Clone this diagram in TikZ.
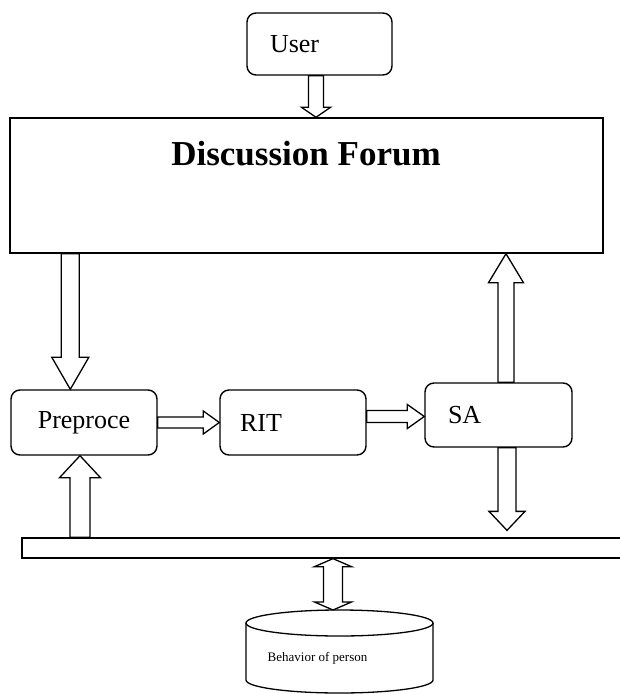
\documentclass[tikz,border=0pt]{standalone}
\usepackage{fontspec}
\setmainfont{Liberation Serif}
\usetikzlibrary{calc}
\tikzset{
  rbox/.style={draw, line width=1.4pt, rounded corners=9pt, fill=white, minimum height=64pt, inner ysep=0pt, font=\fontsize{26}{30}\selectfont},
  sqbox/.style={draw, line width=1.4pt, inner sep=0pt},
  blk/.style={draw, line width=1.3pt, fill=white, line join=miter, miter limit=10},
}
\newcommand\blockarrow[5]{% from, to, half shaft, half head, head length
  \path ($(#2)!#5!(#1)$) coordinate (bahd);
  \draw[blk] ($(#1)!#3!90:(#2)$) -- ($(bahd)!#3!-90:(#1)$) -- ($(bahd)!#4!-90:(#1)$) -- (#2)
    -- ($(bahd)!#4!90:(#1)$) -- ($(bahd)!#3!90:(#1)$) -- ($(#1)!#3!-90:(#2)$) -- cycle;}
\newcommand\dblarrow[5]{% from, to, half shaft, half head, head length
  \path ($(#1)!#5!(#2)$) coordinate (bhA) ($(#2)!#5!(#1)$) coordinate (bhB);
  \draw[blk] (#1) -- ($(bhA)!#4!90:(#2)$) -- ($(bhA)!#3!90:(#2)$) -- ($(bhB)!#3!-90:(#1)$)
    -- ($(bhB)!#4!-90:(#1)$) -- (#2) -- ($(bhB)!#4!90:(#1)$) -- ($(bhB)!#3!90:(#1)$)
    -- ($(bhA)!#3!-90:(#2)$) -- ($(bhA)!#4!-90:(#2)$) -- cycle;}
\begin{document}
\begin{tikzpicture}[x=1pt, y=-1pt]
\useasboundingbox (0,0) rectangle (620,694);
\fill[white] (0,0) rectangle (620,694);

% nodes
\node[rbox, minimum height=62pt, inner xsep=23pt, text width=99pt, align=left] (user) at (319.5,44) {User};
\node[sqbox, minimum width=593pt, minimum height=135pt] (forum) at (306.5,185.5) {};
\node[font=\bfseries\fontsize{35}{40}\selectfont, inner sep=0pt] (ftitle) at (306,154) {Discussion Forum};
\node[rbox, minimum width=146pt, minimum height=65pt] (pre) at (84,422.5) {Preproce};
\node[rbox, minimum height=65pt, inner xsep=20pt, text width=106pt, align=left] (rit) at (293,422.5) {RIT};
\node[rbox, inner xsep=23pt, text width=101pt, align=left] (sa) at (498.5,415) {SA};
\node[draw, line width=1.3pt, minimum width=620pt, minimum height=20pt, inner sep=0pt] (bar) at (332,548) {};

% database cylinder
\draw[line width=1.3pt, fill=white] (246,623) -- (246,680) arc[start angle=180, end angle=360, x radius=93.5pt, y radius=13pt] -- (433,623);
\draw[line width=1.3pt] (339.5,623) ellipse[x radius=93.5pt, y radius=13pt];
\coordinate (dbtop) at (339.5,610);
\node[font=\fontsize{13}{15}\selectfont, inner sep=0pt] (dbtext) at (317.5,658) {Behavior of person};

% user -> forum
\coordinate (u1) at ([xshift=-3.5pt]user.south);
\coordinate (u2) at (u1 |- forum.north);
\blockarrow{u1}{u2}{7.5pt}{14.5pt}{10pt}

% forum -> preprocess
\coordinate (f1) at ([xshift=60pt]pre.north west);
\coordinate (f0) at (f1 |- forum.south);
\blockarrow{f0}{f1}{9pt}{18.5pt}{32pt}

% preprocess -> RIT
\coordinate (p2) at (pre.east -| rit.west);
\blockarrow{pre.east}{p2}{5.5pt}{11.5pt}{16pt}

% RIT -> SA
\coordinate (r1) at ([yshift=6pt]rit.east);
\coordinate (r2) at (r1 -| sa.west);
\blockarrow{r1}{r2}{6pt}{12pt}{17pt}

% SA -> forum
\coordinate (s1) at ([xshift=7.5pt]sa.north);
\coordinate (s2) at (s1 |- forum.south);
\blockarrow{s1}{s2}{8pt}{17.5pt}{29pt}

% SA -> bar
\coordinate (s3) at ([xshift=8.5pt]sa.south);
\coordinate (s4) at ([yshift=7pt]s3 |- bar.north);
\blockarrow{s3}{s4}{9pt}{18pt}{19pt}

% bar -> preprocess
\coordinate (b1) at ([xshift=-4pt]pre.south);
\coordinate (b0) at (b1 |- bar.north);
\blockarrow{b0}{b1}{10pt}{20.5pt}{22pt}

% bar <-> database
\coordinate (d0) at ([xshift=1pt]bar.south);
\coordinate (d1) at (d0 |- dbtop);
\dblarrow{d0}{d1}{9.5pt}{18.5pt}{8pt}
\end{tikzpicture}
\end{document}
